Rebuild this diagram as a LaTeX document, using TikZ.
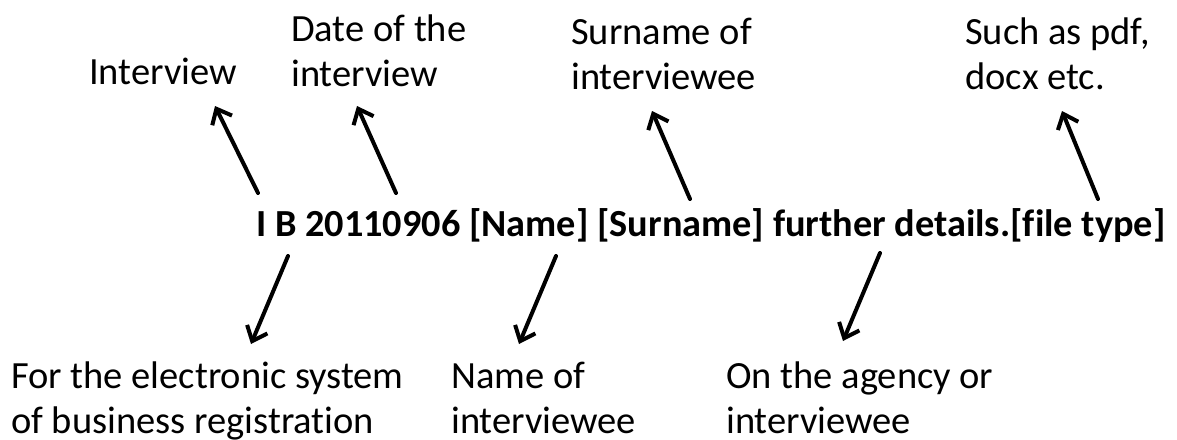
\documentclass[tikz,border=0pt]{standalone}
\usepackage{fontspec}
\setmainfont{Carlito}[Ligatures=NoCommon]
\usetikzlibrary{arrows.meta}
\tikzset{
  lbl/.style={anchor=base west, inner sep=0pt, align=left,
    font=\fontsize{38.5}{45}\selectfont},
  code/.style={anchor=base west, inner sep=0pt,
    font=\fontsize{38.3}{45}\selectfont\bfseries},
  pointer/.style={line width=4pt, line cap=round,
    -{Straight Barb[length=13pt,width=22pt,line width=4pt]}}
}
\begin{document}
\begin{tikzpicture}[x=1pt,y=-1pt]
\useasboundingbox (0,0) rectangle (1177,439);

% file name pattern
\node[code] (pattern) at (256,236) {I B 20110906 [Name] [Surname] further details.[file type]};

% labels above (anchored at the baseline of the last line)
\node[lbl] (interview) at (89,84) {Interview};
\node[lbl] (date) at (291,86) {Date of the\\interview};
\node[lbl] (surname) at (571,89) {Surname of\\interviewee};
\node[lbl] (filetype) at (965,89) {Such as pdf,\\docx etc.};

% labels below
\node[lbl] (system) at (11,433) {For the electronic system\\of business registration};
\node[lbl] (name) at (451,433) {Name of\\interviewee};
\node[lbl] (agency) at (726,433) {On the agency or\\interviewee};

% arrow ends
\coordinate (a1) at (258,193); \coordinate (b1) at (215,106);
\coordinate (a2) at (396,193); \coordinate (b2) at (357,106);
\coordinate (a3) at (690,199); \coordinate (b3) at (652,111);
\coordinate (a4) at (1098,199); \coordinate (b4) at (1062,111);
\coordinate (a5) at (288,256); \coordinate (b5) at (251,344);
\coordinate (a6) at (556,256); \coordinate (b6) at (519,344);
\coordinate (a7) at (880,253); \coordinate (b7) at (843,341);

\foreach \i in {1,...,7} \draw[pointer] (a\i) -- (b\i);
\end{tikzpicture}
\end{document}
